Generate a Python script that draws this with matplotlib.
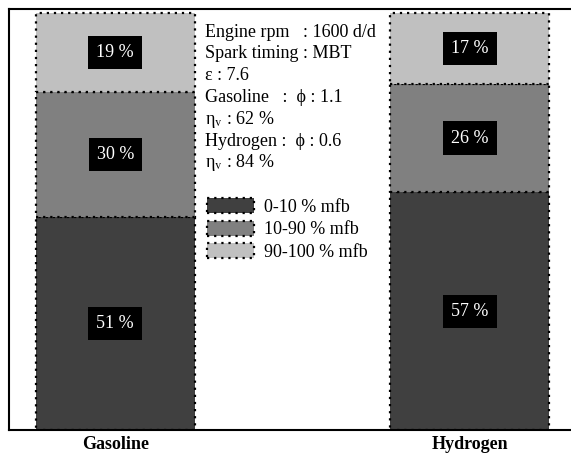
import matplotlib.pyplot as plt
from matplotlib.patches import Patch

fuels = ["Gasoline", "Hydrogen"]
stages = ["0-10 % mfb", "10-90 % mfb", "90-100 % mfb"]
share_0_10 = [51, 57]
share_10_90 = [30, 26]
share_90_100 = [19, 17]
notes = [
    "Engine rpm   : 1600 d/d",
    "Spark timing : MBT",
    "ε : 7.6",
    "Gasoline   :  ϕ : 1.1",
    r"η$_\mathrm{v}$ : 62 %",
    "Hydrogen :  ϕ : 0.6",
    r"η$_\mathrm{v}$ : 84 %",
]

colors = ["#404040", "#808080", "#c0c0c0"]
serif = ["Liberation Serif", "DejaVu Serif"]


def main():
    plt.rcParams["font.family"] = serif
    plt.rcParams["mathtext.fontset"] = "stix"

    fig = plt.figure(figsize=(5.71, 4.54), dpi=100)
    ax = fig.add_axes([9 / 571, 24 / 454, 567 / 571, 421 / 454])

    x = range(len(fuels))
    edge = dict(edgecolor="black", linewidth=1.6, linestyle=(0, (1, 2.2)))
    bottom = [0, 0]
    for vals, col in zip([share_0_10, share_10_90, share_90_100], colors):
        ax.bar(x, vals, width=0.45, bottom=bottom, color=col, **edge)
        for i, v in enumerate(vals):
            ax.text(i, bottom[i] + v / 2, f"{v} %", color="white", fontsize=13,
                    ha="center", va="center",
                    bbox=dict(boxstyle="square,pad=0.45", fc="black", ec="none"))
        bottom = [b + v for b, v in zip(bottom, vals)]

    ax.set_xlim(-0.3, 1.3)
    ax.set_ylim(0, 100.96)
    ax.set_xticks(list(x))
    ax.set_xticklabels(fuels, fontweight="bold", fontsize=13)
    ax.tick_params(axis="x", length=0, pad=4)
    ax.set_yticks([])
    ax.spines["right"].set_visible(False)
    for s in ["left", "top", "bottom"]:
        ax.spines[s].set_linewidth(1.5)

    for i, line in enumerate(notes):
        ax.text(0.253, 95.4 - i * 5.22, line, fontsize=13, ha="left", va="center")

    handles = [Patch(facecolor=c, **edge) for c in colors]
    ax.legend(handles, stages, loc="upper left", bbox_to_anchor=(0.349, 0.55),
              frameon=False, fontsize=13, handlelength=2.6, handleheight=0.9,
              handletextpad=0.55, labelspacing=0.25, borderaxespad=0, borderpad=0)

    plt.savefig("out.png", dpi=100)


if __name__ == "__main__":
    main()
